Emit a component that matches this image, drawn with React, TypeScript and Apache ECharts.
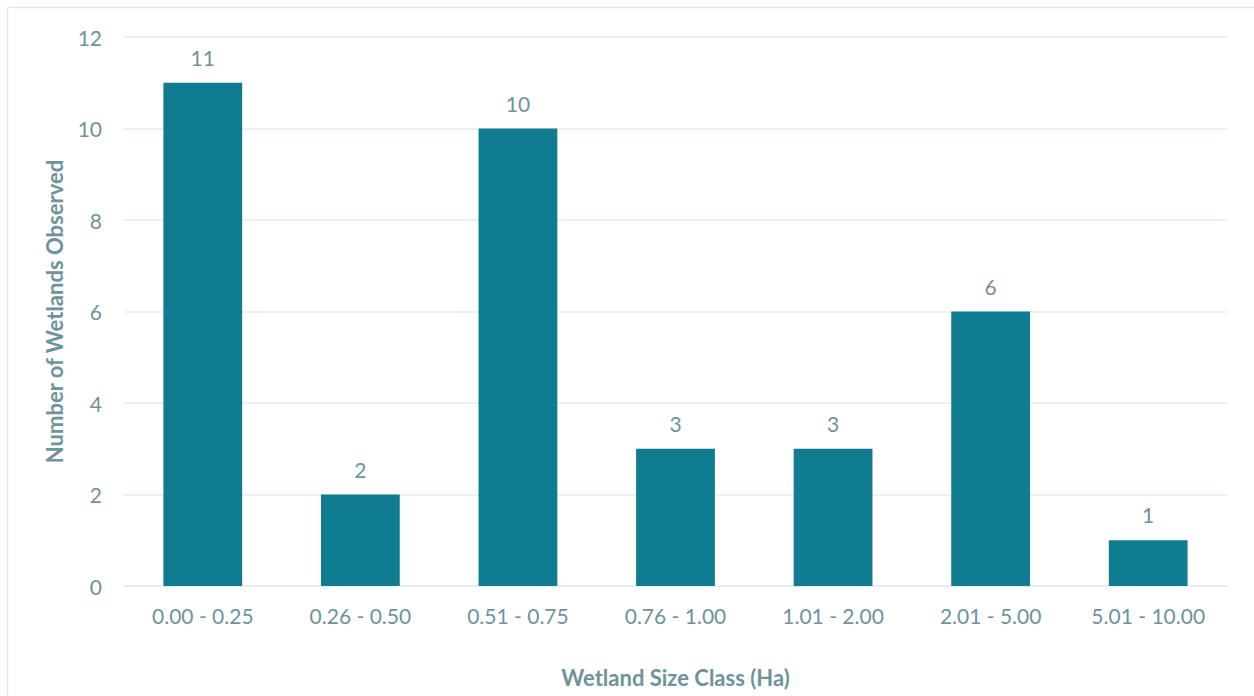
import React, { useEffect, useRef } from "react";
import * as echarts from "echarts";

const categories = [
  "0.00 - 0.25",
  "0.26 - 0.50",
  "0.51 - 0.75",
  "0.76 - 1.00",
  "1.01 - 2.00",
  "2.01 - 5.00",
  "5.01 - 10.00",
];
const counts = [11, 2, 10, 3, 3, 6, 1];

const TEXT = "#6F939A";
const BAR = "#107C91";
const GRID = "#E6ECEC";
const FONT = "Lato, 'Open Sans', sans-serif";

export default function App() {
  const ref = useRef<HTMLDivElement>(null);

  useEffect(() => {
    if (!ref.current) return;
    const chart = echarts.init(ref.current, null, { renderer: "svg" });
    chart.setOption({
      animation: false,
      backgroundColor: "#ffffff",
      textStyle: { fontFamily: FONT },
      graphic: [
        {
          type: "rect",
          shape: { x: 7.5, y: 7.5, width: 1270, height: 720 },
          style: { fill: "none", stroke: "#E3E8E8", lineWidth: 1.5 },
          silent: true,
        },
      ],
      grid: { left: 124, right: 27, top: 37, bottom: 110 },
      xAxis: {
        type: "category",
        data: categories,
        axisLine: { show: true, lineStyle: { color: GRID, width: 1.5 } },
        axisTick: { show: false },
        axisLabel: { color: TEXT, fontSize: 21, margin: 19, fontFamily: FONT },
        name: "Wetland Size Class (Ha)",
        nameLocation: "middle",
        nameGap: 80,
        nameTextStyle: { color: TEXT, fontSize: 22, fontWeight: "bold", fontFamily: FONT },
      },
      yAxis: {
        type: "value",
        min: 0,
        max: 12,
        interval: 2,
        axisLine: { show: false },
        axisTick: { show: false },
        splitLine: { lineStyle: { color: GRID, width: 1.5 } },
        axisLabel: { color: TEXT, fontSize: 21, margin: 22, fontFamily: FONT },
        name: "Number of Wetlands Observed",
        nameLocation: "middle",
        nameGap: 59,
        nameRotate: 90,
        nameTextStyle: { color: TEXT, fontSize: 22, fontWeight: "bold", fontFamily: FONT },
      },
      series: [
        {
          type: "bar",
          data: counts,
          barWidth: "50%",
          itemStyle: { color: BAR },
          label: {
            show: true,
            position: "top",
            distance: 15,
            color: TEXT,
            fontSize: 21,
            fontFamily: FONT,
          },
        },
      ],
    });
    return () => chart.dispose();
  }, []);

  return (
    <div
      ref={ref}
      style={{ position: "absolute", left: 0, top: 0, width: 1254, height: 696 }}
    />
  );
}
